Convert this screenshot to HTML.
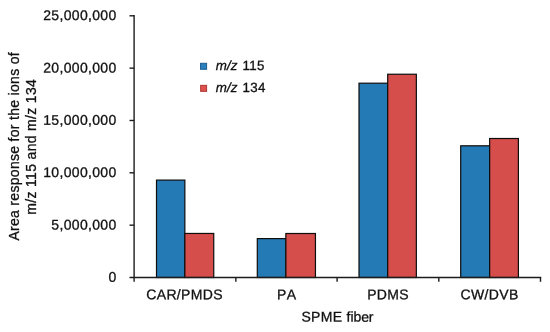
<!DOCTYPE html>
<html><head><meta charset="utf-8"><title>SPME fiber chart</title>
<style>
html,body{margin:0;padding:0;background:#fff;}
body{width:550px;height:332px;overflow:hidden;}
svg{display:block;will-change:transform;}
text{font-family:"Liberation Sans",Arial,Helvetica,sans-serif;fill:#111;stroke:#111;stroke-width:0.3px;letter-spacing:0.33px;}
</style></head><body>
<svg width="550" height="332" viewBox="0 0 550 332">
<rect width="550" height="332" fill="#ffffff"/>
<rect x="156.50" y="180.10" width="28.35" height="97.40" fill="#247ab4" stroke="#0d0d0d" stroke-width="1.2"/>
<rect x="184.85" y="233.45" width="28.90" height="44.05" fill="#d54e4c" stroke="#0d0d0d" stroke-width="1.2"/>
<rect x="257.30" y="238.60" width="28.55" height="38.90" fill="#247ab4" stroke="#0d0d0d" stroke-width="1.2"/>
<rect x="285.85" y="233.50" width="29.60" height="44.00" fill="#d54e4c" stroke="#0d0d0d" stroke-width="1.2"/>
<rect x="359.00" y="83.20" width="28.70" height="194.30" fill="#247ab4" stroke="#0d0d0d" stroke-width="1.2"/>
<rect x="387.70" y="74.25" width="28.65" height="203.25" fill="#d54e4c" stroke="#0d0d0d" stroke-width="1.2"/>
<rect x="460.70" y="145.80" width="28.95" height="131.70" fill="#247ab4" stroke="#0d0d0d" stroke-width="1.2"/>
<rect x="489.65" y="138.50" width="28.75" height="139.00" fill="#d54e4c" stroke="#0d0d0d" stroke-width="1.2"/>
<g stroke="#1c1c1c" stroke-width="1.4" fill="none">
<path d="M134.1 15.100000000000001 V281.8"/>
<path d="M129.5 277.5 H541.2"/>
<path d="M129.5 15.80 H134.1"/>
<path d="M129.5 68.14 H134.1"/>
<path d="M129.5 120.48 H134.1"/>
<path d="M129.5 172.82 H134.1"/>
<path d="M129.5 225.16 H134.1"/>
<path d="M235.85 277.5 V281.8"/>
<path d="M337.10 277.5 V281.8"/>
<path d="M438.80 277.5 V281.8"/>
<path d="M540.50 277.5 V281.8"/>
</g>
<g font-size="14" text-anchor="end">
<text x="116.6" y="20.1" transform="rotate(0.03 116.6 20.1)">25,000,000</text>
<text x="116.6" y="72.44" transform="rotate(0.03 116.6 72.44)">20,000,000</text>
<text x="116.6" y="124.78" transform="rotate(0.03 116.6 124.78)">15,000,000</text>
<text x="116.6" y="177.12" transform="rotate(0.03 116.6 177.12)">10,000,000</text>
<text x="116.6" y="229.46" transform="rotate(0.03 116.6 229.46)">5,000,000</text>
<text x="116.6" y="281.8" transform="rotate(0.03 116.6 281.8)">0</text>
</g>
<g font-size="14" text-anchor="middle">
<text x="184.6" y="299.3" transform="rotate(0.03 184.6 299.3)" style="font-kerning:none">CAR/PMDS</text>
<text x="286.75" y="299.3" transform="rotate(0.03 286.75 299.3)" style="font-kerning:none">PA</text>
<text x="388.1" y="299.3" transform="rotate(0.03 388.1 299.3)" style="font-kerning:none">PDMS</text>
<text x="489.6" y="299.3" transform="rotate(0.03 489.6 299.3)" style="font-kerning:none">CW/DVB</text>
<text x="301.4" y="321.6" transform="rotate(0.03 301.4 321.6)" text-anchor="start">SPME <tspan letter-spacing="-0.08">fiber</tspan></text>
</g>
<g font-size="14" text-anchor="middle">
<text transform="translate(19.1 146.3) rotate(-90)" textLength="188.6">Area response for the ions of</text>
<text transform="translate(36.4 146.75) rotate(-90)" textLength="135.9">m/z 115 and m/z 134</text>
</g>
<rect x="200.55" y="63.3" width="6.05" height="6" fill="#2a7fbd" stroke="#1c5f94" stroke-width="1"/>
<rect x="200.65" y="85.35" width="5.95" height="6" fill="#de514d" stroke="#ad3735" stroke-width="1"/>
<text x="215.8" y="69.95" transform="rotate(0.03 215.8 69.95)" font-size="13.33" word-spacing="1.1"><tspan font-style="italic" letter-spacing="0.05">m/z</tspan> 115</text>
<text x="215.8" y="91.95" transform="rotate(0.03 215.8 91.95)" font-size="13.33" word-spacing="1.1"><tspan font-style="italic" letter-spacing="0.05">m/z</tspan> 134</text>
</svg>
</body></html>
